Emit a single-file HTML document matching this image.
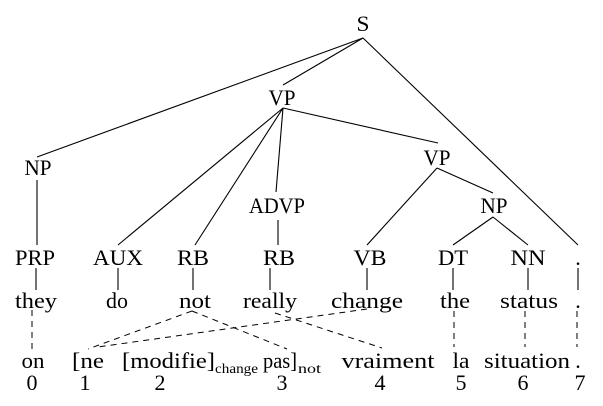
<!DOCTYPE html>
<html><head><style>
html,body{margin:0;padding:0;background:#fff;width:603px;height:406px;overflow:hidden}
svg text{font-family:"Liberation Serif","Times New Roman","DejaVu Serif",serif;font-size:22px;fill:#000}
</style></head><body>
<svg width="603" height="406" viewBox="0 0 603 406" xmlns="http://www.w3.org/2000/svg">
<g stroke="#000" stroke-width="1.1" fill="none">
<line x1="363" y1="38" x2="37" y2="157"/>
<line x1="363" y1="38" x2="283" y2="85"/>
<line x1="363" y1="38" x2="578" y2="245"/>
<line x1="283" y1="108" x2="118" y2="245"/>
<line x1="283" y1="108" x2="195" y2="245"/>
<line x1="283" y1="108" x2="276" y2="192"/>
<line x1="283" y1="108" x2="438" y2="143"/>
<line x1="37" y1="180" x2="37" y2="245"/>
<line x1="437" y1="168" x2="367" y2="245"/>
<line x1="437" y1="168" x2="493" y2="193"/>
<line x1="278" y1="220" x2="278" y2="245"/>
<line x1="493" y1="217" x2="453" y2="245"/>
<line x1="493" y1="217" x2="528" y2="245"/>
<line x1="36" y1="268" x2="36" y2="290"/>
<line x1="118" y1="268" x2="118" y2="290"/>
<line x1="193" y1="268" x2="193" y2="290"/>
<line x1="270" y1="268" x2="270" y2="290"/>
<line x1="367" y1="268" x2="367" y2="290"/>
<line x1="453" y1="268" x2="453" y2="290"/>
<line x1="528" y1="268" x2="528" y2="290"/>
<line x1="578" y1="268" x2="578" y2="290"/>
</g>
<g stroke="#000" stroke-width="1" fill="none" stroke-dasharray="6,5">
<line x1="32" y1="310" x2="32" y2="350"/>
<line x1="192" y1="311" x2="88" y2="349"/>
<line x1="192" y1="311" x2="287" y2="349"/>
<line x1="275" y1="313" x2="382" y2="348"/>
<line x1="367" y1="309" x2="98" y2="347"/>
<line x1="454" y1="311" x2="454" y2="347"/>
<line x1="525" y1="311" x2="525" y2="347"/>
<line x1="577" y1="311" x2="577" y2="347"/>
</g>
<g text-anchor="middle" lengthAdjust="spacingAndGlyphs">
<text x="363" y="31" textLength="13" lengthAdjust="spacingAndGlyphs">S</text>
<text x="282" y="105" textLength="27" lengthAdjust="spacingAndGlyphs">VP</text>
<text x="38" y="175" textLength="27" lengthAdjust="spacingAndGlyphs">NP</text>
<text x="437" y="165" textLength="27" lengthAdjust="spacingAndGlyphs">VP</text>
<text x="277" y="213" textLength="56" lengthAdjust="spacingAndGlyphs">ADVP</text>
<text x="494" y="213" textLength="27" lengthAdjust="spacingAndGlyphs">NP</text>
<text x="35" y="265" textLength="40" lengthAdjust="spacingAndGlyphs">PRP</text>
<text x="118" y="265" textLength="50" lengthAdjust="spacingAndGlyphs">AUX</text>
<text x="193" y="265" textLength="32" lengthAdjust="spacingAndGlyphs">RB</text>
<text x="279" y="265" textLength="32" lengthAdjust="spacingAndGlyphs">RB</text>
<text x="370" y="265" textLength="33" lengthAdjust="spacingAndGlyphs">VB</text>
<text x="453" y="265" textLength="30" lengthAdjust="spacingAndGlyphs">DT</text>
<text x="528" y="265" textLength="35" lengthAdjust="spacingAndGlyphs">NN</text>
<text x="578" y="265">.</text>
<text x="36" y="308" textLength="42" lengthAdjust="spacingAndGlyphs">they</text>
<text x="117" y="308" textLength="22" lengthAdjust="spacingAndGlyphs">do</text>
<text x="195" y="308" textLength="32" lengthAdjust="spacingAndGlyphs">not</text>
<text x="270" y="308" textLength="54" lengthAdjust="spacingAndGlyphs">really</text>
<text x="367" y="308" textLength="72" lengthAdjust="spacingAndGlyphs">change</text>
<text x="455" y="308" textLength="30" lengthAdjust="spacingAndGlyphs">the</text>
<text x="529" y="308" textLength="58" lengthAdjust="spacingAndGlyphs">status</text>
<text x="578" y="308">.</text>
<text x="33" y="368" textLength="23" lengthAdjust="spacingAndGlyphs">on</text>
<text x="388" y="368" textLength="93" lengthAdjust="spacingAndGlyphs">vraiment</text>
<text x="461" y="368" textLength="17" lengthAdjust="spacingAndGlyphs">la</text>
<text x="527" y="368" textLength="86" lengthAdjust="spacingAndGlyphs">situation</text>
<text x="578" y="368">.</text>
<text x="32" y="390">0</text>
<text x="85" y="390">1</text>
<text x="160" y="390">2</text>
<text x="282" y="390">3</text>
<text x="380" y="390">4</text>
<text x="461" y="390">5</text>
<text x="523" y="390">6</text>
<text x="580" y="390">7</text>
</g>
<text x="72" y="368" textLength="32" lengthAdjust="spacingAndGlyphs">[ne</text>
<text x="122" y="368" textLength="93" lengthAdjust="spacingAndGlyphs">[modifie]</text>
<text x="215" y="373" font-size="14" style="font-size:14px" textLength="43" lengthAdjust="spacingAndGlyphs">change</text>
<text x="263" y="368" textLength="34" lengthAdjust="spacingAndGlyphs">pas]</text>
<text x="298" y="373" style="font-size:14px" textLength="23" lengthAdjust="spacingAndGlyphs">not</text>
</svg>
</body></html>
